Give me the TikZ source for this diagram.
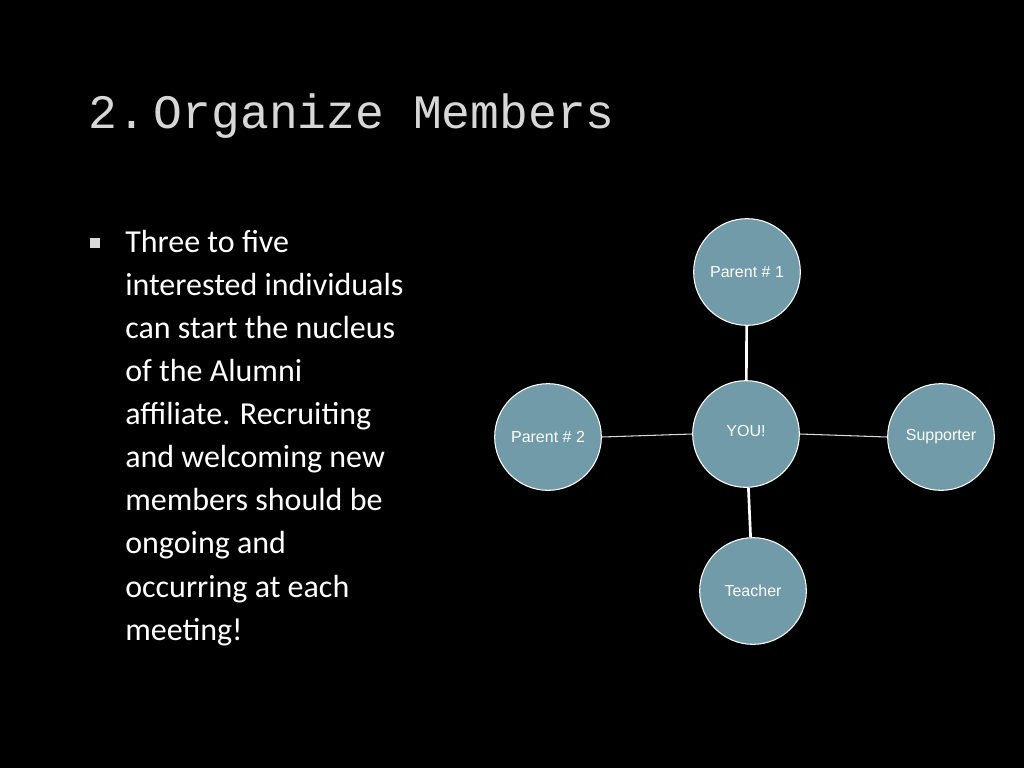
\documentclass[tikz,border=0pt]{standalone}
\usepackage{fontspec}
\setmainfont{Carlito}
\newfontfamily\titlefont{Liberation Mono}
\newfontfamily\labfont{Liberation Sans}
\definecolor{circfill}{RGB}{113,155,168}
\definecolor{titlegray}{RGB}{215,215,215}
\begin{document}
\begin{tikzpicture}[x=0.75pt,y=-0.75pt,
  circ/.style={circle,draw=white,line width=0.8pt,fill=circfill,minimum size=80pt,inner sep=0pt,text=white,font=\labfont\fontsize{12}{14}\selectfont},
  vline/.style={draw=white,line width=2pt},
  hline/.style={draw=white!85!black,line width=0.8pt}]
\fill[black] (0,0) rectangle (1024,768);
\node[anchor=base west,inner sep=0pt,text=titlegray,font=\titlefont\fontsize{36}{40}\selectfont] (title) at (88,128) {2.\,Organize Members};
\fill[white!85!black] (90,238) rectangle (100,248);
\node[anchor=north west,inner sep=0pt,text=white,align=left,font=\fontsize{24}{32.3}\selectfont] (body) at (125,230) {Three to five\\interested individuals\\can start the nucleus\\of the Alumni\\affiliate. Recruiting\\and welcoming new\\members should be\\ongoing and\\occurring at each\\meeting!};
\node[circ] (p1) at (747,272) {Parent \# 1};
\node[circ] (you) at (746,434) {\raisebox{4pt}{YOU!}};
\node[circ] (p2) at (548,437) {Parent \# 2};
\node[circ] (sup) at (941,437) {Supporter};
\node[circ] (t) at (753,591) {Teacher};
\draw[vline] (p1) -- (you);
\draw[vline] (you) -- (t);
\draw[hline] (p2.east) -- (you.west);
\draw[hline] (you.east) -- (sup.west);
\end{tikzpicture}
\end{document}
